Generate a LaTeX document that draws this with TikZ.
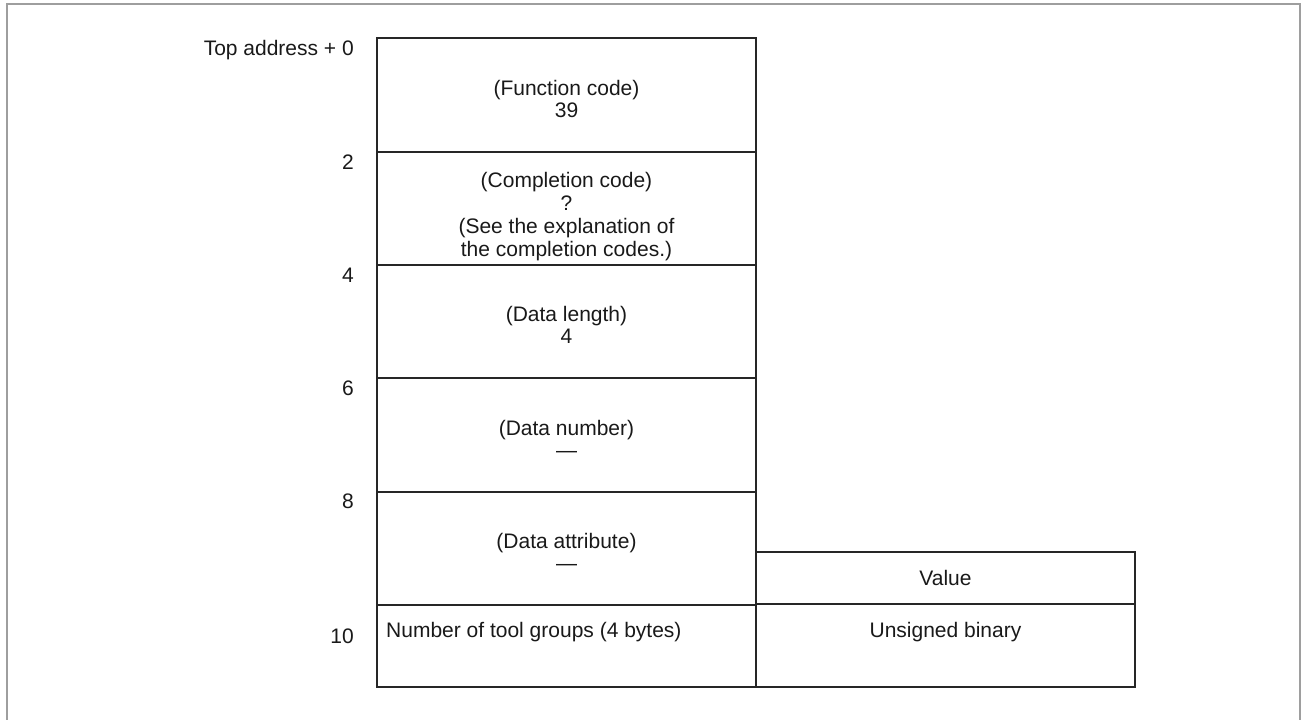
\documentclass[tikz,border=0pt]{standalone}
\usepackage{fontspec}
\setmainfont{Liberation Sans}

\begin{document}
\begin{tikzpicture}
  [x=1pt,y=-1pt,
   every node/.style={font=\fontsize{21}{22}\selectfont,text=black!90},
   cell/.style={draw=black!85,line width=1.1pt,minimum width=379pt,inner sep=0pt},
   txt/.style={align=center,inner sep=0pt},
   addr/.style={anchor=base east,inner sep=0pt}]
  \useasboundingbox (0,0) rectangle (1302,720);

  % outer frame, open at the bottom
  \draw[black!38,line width=2.2pt] (7,720) -- (7,4) -- (1300,4) -- (1300,720);

  % main column
  \node[cell,minimum height=114pt] (fcode)  at (566.5,95)    {};
  \node[cell,minimum height=113pt] (ccode)  at (566.5,208.5) {};
  \node[cell,minimum height=113pt] (dlen)   at (566.5,321.5) {};
  \node[cell,minimum height=114pt] (dnum)   at (566.5,435)   {};
  \node[cell,minimum height=113pt] (dattr)  at (566.5,548.5) {};
  \node[cell,minimum height=82pt]  (ngroup) at (566.5,646)   {};

  % value column
  \node[cell,minimum height=52pt]  (value)  at (945.5,578)   {};
  \node[cell,minimum height=83pt]  (ubin)   at (945.5,645.5) {};

  % cell texts
  \node[txt] (fcodetxt) at ([yshift=-3.5pt]fcode.center) {(Function code)\\39};
  \node[txt,font=\fontsize{21}{23}\selectfont]
             (ccodetxt) at ([yshift=-8pt]ccode.center)   {(Completion code)\\?\\(See the explanation of\\the completion codes.)};
  \node[txt] (dlentxt)  at ([yshift=-3.5pt]dlen.center)  {(Data length)\\4};
  \node[txt] (dnumtxt)  at ([yshift=-3.5pt]dnum.center)  {(Data number)\\---};
  \node[txt] (dattrtxt) at ([yshift=-3.5pt]dattr.center) {(Data attribute)\\---};
  \node[txt] (valuetxt) at (value.center) {Value};
  \node[anchor=base west,inner sep=0pt] (ngtxt) at (386,637)   {Number of tool groups (4 bytes)};
  \node[anchor=base,inner sep=0pt]      (ubtxt) at (945.5,637) {Unsigned binary};

  % addresses
  \node[addr] (addr0) at (354,55) {Top address + 0};
  \foreach \a/\y in {2/169,4/282,6/395,8/508}
    \node[addr] (addr\a) at (354,\y) {\a};
  \node[addr] (addr10) at (354,643) {10};

\end{tikzpicture}
\end{document}
